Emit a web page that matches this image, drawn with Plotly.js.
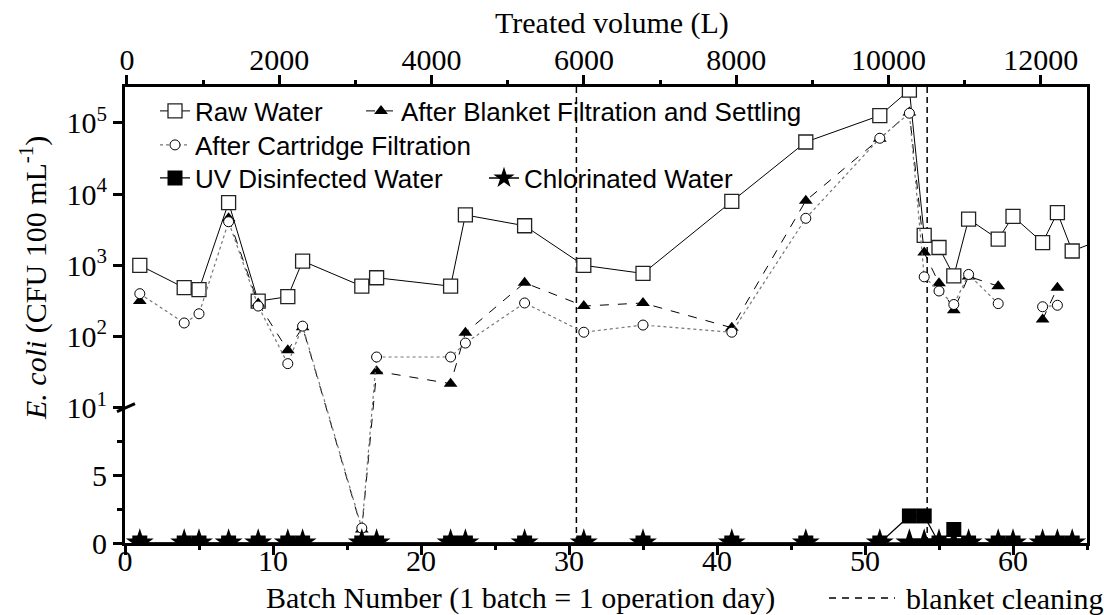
<!DOCTYPE html>
<html><head><meta charset="utf-8">
<script src="https://cdn.plot.ly/plotly-3.0.1.min.js"></script>
<style>html,body{margin:0;padding:0;background:#fff}#chart{width:1104px;height:615px}</style>
</head><body><div id="chart"></div>
<script>
// ---------- data ----------
const rawBatch = [1,4,5,7,9,11,12,16,17,22,23,27,31,35,41,46,51,53,54,55,56,57,59,60,62,63,64,66];
const rawWater = [1000,485,457,7600,314,363,1150,510,670,510,5100,3600,1000,770,7900,54000,127000,290000,2640,1780,710,4460,2330,4880,2090,5500,1590,2300];

const filtBatch = [1,4,5,7,9,11,12,16,17,22,23,27,31,35,41,46,51,53,54,55,56,57,59,60,62,63];
const blanketWater = [315,null,null,4600,290,64,135,1,32.5,21.8,113,570,268,296,133,8100,60000,140000,1510,560,234,700,510,null,173,485];
const cartridgeWater = [400,155,209,4100,268,41.6,140,1.1,51.6,51.6,81,296,115,145,115,4580,61000,137000,690,436,282,745,290,null,262,275];

const disBatch = [1,4,5,7,9,11,12,16,17,22,23,27,31,35,41,46,51,53,54,55,56,57,59,60,62,63,64];
const uvWater = [0,0,0,0,0,0,0,0,0,0,0,0,0,0,0,0,0,2,2,0,1,0,0,0,0,0,0];
const chlorWater = [0,0,0,0,0,0,0,0,0,0,0,0,0,0,0,0,0,0,0,0,0,0,0,0,0,0,0];

const cleaningBatch = [30.5, 54.2];

const yTickValues = [0, 5, 10, 100, 1000, 10000, 100000];
const yTickText = ['0','5','10<sup>1</sup>','10<sup>2</sup>','10<sup>3</sup>','10<sup>4</sup>','10<sup>5</sup>'];
const yMinorValues = [2.5, 7.5];
const yMax = 3.2e5;

// ---------- broken axis: linear 0-10 below, log above ----------
const LIN_SPAN = 1.90; // height of the 0–10 linear part in decade units
function yT(v){ if(v===null||v===undefined) return null; return v<=10 ? v/10*LIN_SPAN : LIN_SPAN + Math.log10(v) - 1; }
const Y_TOP = yT(yMax);

const serif = 'Liberation Serif';
const sans = 'Liberation Sans';

const cleanX = [], cleanY = [];
cleaningBatch.forEach(b => { cleanX.push(b, b, null); cleanY.push(0, Y_TOP, null); });

const DASH = '6px,4px';

const traces = [
  {x: cleanX, y: cleanY, mode:'lines', name:'blanket cleaning', showlegend:false,
   line:{color:'black', width:1.5, dash:DASH}, hoverinfo:'skip'},
  {x: rawBatch, y: rawWater.map(yT), mode:'lines+markers', name:'Raw Water', legend:'legend',
   line:{color:'black', width:1},
   marker:{symbol:'square', size:14, color:'white', line:{color:'#222', width:1.3}}},
  {x: filtBatch, y: blanketWater.map(yT), mode:'lines+markers', name:'After Blanket Filtration and Settling', legend:'legend2',
   line:{color:'black', width:1, dash:'dash'}, connectgaps:false,
   marker:{symbol:'triangle-up', size:12, color:'black'}},
  {x: filtBatch, y: cartridgeWater.map(yT), mode:'lines+markers', name:'After Cartridge Filtration', legend:'legend3',
   line:{color:'#777', width:1.2, dash:'dot'}, connectgaps:false,
   marker:{symbol:'circle', size:10, color:'white', line:{color:'black', width:1}}},
  {x: disBatch, y: uvWater.map(yT), mode:'lines+markers', name:'UV Disinfected Water', legend:'legend4',
   line:{color:'black', width:1.2},
   marker:{symbol:'square', size:15, color:'black'}},
  {x: disBatch, y: chlorWater.map(yT), mode:'lines+markers', name:'Chlorinated Water', legend:'legend5',
   line:{color:'black', width:1.5},
   marker:{symbol:'star', size:21, color:'black'}},
  {x: [], y: [], xaxis:'x2', yaxis:'y', showlegend:false, hoverinfo:'skip'}
];

const W = 1104, H = 615, L = 125, R = 17, T = 87, B = 72;
const pw = W - L - R, ph = H - T - B;
const px = x => (x - L)/pw;
const py = y => (H - B - y)/ph;

function leg(x, y){
  return {x: px(x - 40), y: py(y), xanchor:'left', yanchor:'middle', bgcolor:'rgba(0,0,0,0)',
          borderwidth:0, font: {family: sans, size:26, color:'black'}};
}

const layout = {
  width: W, height: H,
  margin:{l:L, r:R, t:T, b:B, autoexpand:false},
  paper_bgcolor:'white', plot_bgcolor:'white',
  hovermode:false,
  showlegend:true,
  xaxis: {range:[0,65], dtick:10, tick0:0, tickmode:'linear',
    showgrid:false, zeroline:false, showline:true, linecolor:'black', linewidth:3,
    ticks:'outside', ticklen:9, tickwidth:3, tickcolor:'black', ticklabelstandoff:-20,
    tickfont:{family: serif, size:30, color:'black'},
    minor:{dtick:5, tick0:0, ticks:'outside', ticklen:4, tickwidth:3, tickcolor:'black'}},
  xaxis2: {overlaying:'x', side:'top', anchor:'y', range:[-26,12607], dtick:2000, tick0:0, tickmode:'linear', tickformat:'d',
    showgrid:false, zeroline:false, showline:true, linecolor:'black', linewidth:3,
    ticks:'outside', ticklen:9, tickwidth:3, tickcolor:'black', ticklabelstandoff:-7,
    tickfont:{family: serif, size:30, color:'black'},
    minor:{dtick:1000, tick0:0, ticks:'outside', ticklen:4, tickwidth:3, tickcolor:'black'}},
  yaxis: {range:[0, Y_TOP], mirror:true,
    showgrid:false, zeroline:false, showline:true, linecolor:'black', linewidth:3,
    ticks:'outside', ticklen:9, tickwidth:3, tickcolor:'black',
    tickfont:{family: serif, size:30, color:'black'},
    tickmode:'array', tickvals: yTickValues.map(yT), ticktext: yTickText,
    minor:{tickmode:'array', tickvals: yMinorValues.map(yT), ticks:'outside', ticklen:5, tickwidth:3, tickcolor:'black'}},
  legend: leg(195, 111),
  legend2: leg(401, 111),
  legend3: leg(195, 145),
  legend4: leg(195, 178),
  legend5: leg(524, 178),
  shapes:[
    {type:'line', xref:'paper', yref:'y', x0:px(117), x1:px(135), y0: yT(10) - 4/71.2, y1: yT(10) + 4/71.2,
     line:{color:'black', width:3}},
    {type:'line', xref:'paper', yref:'paper', x0:px(829), x1:px(895), y0:py(598), y1:py(598),
     line:{color:'black', width:1.5, dash:'7px,6px'}}
  ],
  annotations:[
    {text:'Treated volume (L)', xref:'paper', yref:'paper', x:px(612), y:py(23), xanchor:'center', yanchor:'middle',
     showarrow:false, font:{family: serif, size:30, color:'black'}},
    {text:'Batch Number (1 batch = 1 operation day)', xref:'paper', yref:'paper', x:px(520), y:py(598), xanchor:'center', yanchor:'middle',
     showarrow:false, font:{family: serif, size:30, color:'black'}},
    {text:'blanket cleaning', xref:'paper', yref:'paper', x:px(904), y:py(598), xanchor:'left', yanchor:'middle',
     showarrow:false, font:{family: serif, size:30, color:'black'}},
    {text:'<i>E. coli</i> (CFU 100 mL<sup>-1</sup>)', xref:'paper', yref:'paper', x:px(33), y:py(278), xanchor:'center', yanchor:'middle',
     textangle:-90, showarrow:false, font:{family: serif, size:30, color:'black'}}
  ]
};

Plotly.newPlot('chart', traces, layout, {displayModeBar:false, staticPlot:true});
</script>
</body></html>
